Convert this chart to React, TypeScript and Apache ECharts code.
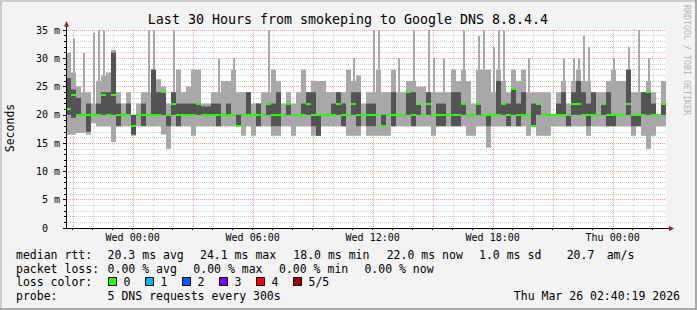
import { useEffect, useRef } from 'react';
import * as echarts from 'echarts';

// Time axis: hours relative to Wed 00:00 (graph spans Tue 20:40 .. Thu 02:40)
const START_HOUR = -10 / 3;
const SPAN_HOURS = 30;
const BUCKET_HOURS = 0.25;

// Sorted pings per 15-minute bucket (ms)
const pingMin = [
  16.5, 16.5, 16.8, 16.8, 16.5, 18.5, 18, 18, 18, 15.2, 18, 18, 18, 16.3, 18, 18, 18, 18, 18, 16.5,
  14, 18, 18, 18, 18, 16.3, 18, 18, 18, 18, 18, 18, 18, 18, 18, 16.3, 18, 16.3, 18, 18,
  18, 16.3, 16.3, 18, 18, 16.3, 18, 18, 18, 16.3, 16.3, 18, 18, 18, 18, 18, 16.3, 16.3, 16.3, 18,
  16.3, 16.3, 16.3, 16.3, 16.3, 18, 18, 18, 18, 18, 18, 18, 18, 16.3, 18, 18, 18, 18, 18, 18,
  16.3, 16.3, 18, 18, 14.2, 18, 18, 18, 18, 18, 18, 18, 16.3, 18, 16.3, 16.3, 16.3, 18, 18, 18,
  18, 18, 18, 18, 16.3, 18, 18, 18, 18, 18, 18, 18, 18, 16.3, 18, 16.3, 14, 16.3, 18, 18,
];
const pingLow = [
  20, 19.5, 20, 20, 17, 20, 20, 20, 20, 20, 18, 20, 20, 16.5, 20, 18, 20, 20, 20, 20,
  18, 20, 18, 20, 20, 20, 20, 20, 20, 20, 18, 20, 20, 20, 18, 20, 20, 20, 18, 20,
  20, 18, 18, 20, 20, 20, 20, 20, 20, 18, 16.3, 20, 20, 20, 20, 18, 20, 20, 18, 20,
  18, 18, 20, 18, 20, 18, 20, 20, 20, 18, 20, 20, 20, 20, 18, 18, 20, 18, 18, 20,
  20, 20, 20, 20, 18, 20, 20, 20, 18, 20, 18, 20, 20, 18, 20, 20, 20, 20, 20, 20,
  18, 20, 20, 20, 18, 20, 20, 20, 18, 18, 20, 20, 20, 18, 18, 20, 20, 20, 20, 20,
];
const pingMedian = [
  21, 23.5, 20, 20, 20, 20, 20, 23.5, 20, 23.5, 20, 20, 20, 18, 20, 20, 20, 20, 20, 24,
  20, 22, 20, 20, 20, 20, 22, 20, 20, 20, 20, 20, 20, 20, 18, 20, 20, 20, 20, 20,
  22, 20, 20, 20, 22, 20, 20, 20, 22, 20, 20, 20, 20, 20, 22, 20, 20, 22, 20, 20,
  20, 20, 20, 18, 20, 20, 20, 20, 24, 20, 22, 20, 22, 20, 20, 20, 20, 20, 20, 22,
  20, 20, 22, 20, 20, 20, 20, 22, 20, 24.5, 20, 20, 20, 18, 22, 20, 20, 20, 20, 20,
  20, 22, 22, 20, 20, 20, 20, 22, 20, 20, 20, 20, 22, 20, 20, 20, 24, 20, 20, 22,
];
const pingHigh = [
  26.5, 24.5, 23, 20, 22, 20, 22, 24, 24, 31, 22, 20, 22, 20, 20, 22, 20, 28, 24, 24,
  20, 24, 22, 22, 22, 22, 22, 21.5, 21.5, 22, 22, 20, 22, 20, 20, 20, 24, 20, 22, 20,
  22, 22, 24, 20, 22, 20, 20, 22, 24, 24, 20, 20, 20, 22, 24, 22, 20, 24, 24, 20,
  22, 22, 20, 20, 20, 24, 20, 20, 24, 24, 22, 20, 24, 20, 22, 22, 20, 24, 24, 22,
  20, 20, 22, 20, 20, 20, 26, 22, 22, 24.5, 22, 24, 20, 22, 22, 20, 20, 20, 22, 24,
  20, 24, 26, 24, 22, 24, 20, 22, 24, 20, 20, 20, 28, 20, 20, 24, 24, 22, 20, 22,
];
const pingMax = [
  31, 27.5, 25, 24, 24, 22, 26, 27, 27.5, 31.5, 24, 22, 24, 20, 22, 24, 24, 28, 26.3, 25,
  22, 24, 28, 24, 25, 28, 28, 22, 22, 24, 24, 26, 26, 28, 24, 24, 24, 22, 22, 24,
  24, 28, 26, 22, 24, 22, 24, 28, 24, 26, 26, 26, 24, 24, 24, 24, 28, 26, 27, 22,
  24, 24, 28, 24, 24, 28, 24, 24, 26, 26, 25, 25, 24, 24, 24, 24, 24, 28, 26, 28,
  26, 22, 28, 28, 28, 24, 28, 26, 24, 28, 26, 28, 24, 24, 24, 24, 24, 20, 24, 26,
  22, 26, 28, 26, 26, 24, 24, 24, 26, 28, 26, 26, 28, 24, 24, 24, 26, 24, 20, 26,
];
// Narrow outlier spikes: bucket index and top value (ms)
const spikeBucket = [1, 3, 5, 6, 7, 16, 17, 21, 30, 33, 40, 57, 61, 62, 66, 69, 72, 73, 75, 79, 82, 83, 85, 86, 87, 92, 99, 101, 102, 103, 104, 109, 112, 114, 116];
const spikeTop = [33.5, 31, 34.5, 35, 35, 35, 35, 35, 30, 30, 35, 30, 35, 35, 30, 35, 35, 30, 30, 35, 34, 35, 32, 35, 35, 30, 30, 30, 30, 34, 32, 30, 32, 35, 30];

const xLabelHours = [0, 6, 12, 18, 24];
const xLabelTexts = ['Wed 00:00', 'Wed 06:00', 'Wed 12:00', 'Wed 18:00', 'Thu 00:00'];
const lossLabels = ['0', '1', '2', '3', '4', '5/5'];
const lossColors = ['#26ff00', '#00b8ff', '#0059ff', '#7e00ff', '#ff0000', '#a10000'];
const rttStats = ['20.3 ms avg', '24.1 ms max', '18.0 ms min', '22.0 ms now', '1.0 ms sd', '20.7', 'am/s'];
const lossStats = ['0.00 % avg', '0.00 % max', '0.00 % min', '0.00 % now'];

const W = 697;
const H = 310;
const GRID = { left: 66, top: 30, width: 600, height: 198 };
const FONT = 'DejaVu Sans Mono';
const BACK = '#f3f3f3';
const LIGHT = '#a8a8a8';
const DARK = '#545454';
const GREEN = '#26ff00';
const MAJOR = '#f09a9a';
const MINOR = '#cccccc';
const MAJOR_V = '#f0a4a4';
const MINOR_V = '#d4d4d4';

function buildOption() {
  const spikes = new Map<number, number>();
  spikeBucket.forEach((b, i) => spikes.set(b, spikeTop[i]));
  const data = pingMin.map((_, i) => [
    START_HOUR + i * BUCKET_HOURS,
    pingMin[i],
    pingLow[i],
    pingMedian[i],
    pingHigh[i],
    pingMax[i],
    spikes.get(i) ?? 0,
  ]);
  const hours: number[] = [];
  for (let h = Math.ceil(START_HOUR); h <= START_HOUR + SPAN_HOURS; h++) hours.push(h);

  const gx0 = GRID.left;
  const gy0 = GRID.top;
  const gy1 = GRID.top + GRID.height;
  const gx1 = GRID.left + GRID.width;

  const text = (x: number, y: number, t: string, extra: any = {}) => ({
    type: 'text',
    x,
    y,
    silent: true,
    style: {
      text: t,
      fontFamily: FONT,
      fontSize: 11.5,
      fill: '#000',
      align: 'left',
      verticalAlign: 'middle',
      ...extra,
    },
  });
  const band = (x: number, y: number, w: number, h: number) => ({
    type: 'rect',
    silent: true,
    z: -1,
    shape: { x, y, width: w, height: h },
    style: { fill: BACK },
  });

  const rowY = [255, 268.5, 282, 296];
  const statX1 = [107.6, 200, 293.3, 386.7, 479, 566.7, 606.7];
  const statX2 = [107.6, 193.3, 279, 364.4];
  const graphic: any[] = [
    band(0, 0, W, gy0),
    band(0, gy1, W, H - gy1),
    band(0, gy0, gx0, GRID.height),
    band(gx1, gy0, W - gx1, GRID.height),
    { type: 'line', shape: { x1: 0, y1: 1, x2: W, y2: 1 }, style: { stroke: '#cbcbcb', lineWidth: 2 }, silent: true },
    { type: 'line', shape: { x1: 1, y1: 0, x2: 1, y2: H }, style: { stroke: '#cbcbcb', lineWidth: 2 }, silent: true },
    { type: 'line', shape: { x1: 0, y1: H - 1, x2: W, y2: H - 1 }, style: { stroke: '#a8a8a8', lineWidth: 2 }, silent: true },
    { type: 'line', shape: { x1: W - 1, y1: 0, x2: W - 1, y2: H }, style: { stroke: '#a8a8a8', lineWidth: 2 }, silent: true },
    text(348, 19, 'Last 30 Hours from smokeping to Google DNS 8.8.4.4', { align: 'center', fontSize: 13.3 }),
    { type: 'line', z: 10, shape: { x1: gx0 + 0.5, y1: gy1 + 0.5, x2: gx1 + 4, y2: gy1 + 0.5 }, style: { stroke: '#000', lineWidth: 1 }, silent: true },
    { type: 'line', z: 10, shape: { x1: gx0 + 0.5, y1: gy1 + 0.5, x2: gx0 + 0.5, y2: gy0 - 4 }, style: { stroke: '#000', lineWidth: 1 }, silent: true },
    { type: 'polygon', z: 10, shape: { points: [[gx0 - 2, gy0 - 3.5], [gx0 + 3, gy0 - 3.5], [gx0 + 0.5, gy0 - 9]] }, style: { fill: '#9a1c1c' }, silent: true },
    { type: 'polygon', z: 10, shape: { points: [[gx1 + 3, gy1 - 2], [gx1 + 3, gy1 + 3], [gx1 + 8, gy1 + 0.5]] }, style: { fill: '#9a1c1c' }, silent: true },
    { ...text(10, 128, 'Seconds', { align: 'center', fontSize: 11.5 }), rotation: Math.PI / 2 },
    { ...text(686.5, 60, 'RRDTOOL / TOBI OETIKER', { align: 'center', fontSize: 8.3, fill: '#b4b4b4' }), rotation: -Math.PI / 2 },
    text(16, rowY[0], 'median rtt:'),
    ...rttStats.map((s, i) => text(statX1[i], rowY[0], s)),
    text(16, rowY[1], 'packet loss:'),
    ...lossStats.map((s, i) => text(statX2[i], rowY[1], s)),
    text(16, rowY[2], 'loss color:'),
    ...lossLabels.flatMap((l, i) => [
      {
        type: 'rect',
        silent: true,
        shape: { x: 108.5 + i * 37, y: rowY[2] - 4.5, width: 8, height: 8 },
        style: { fill: lossColors[i], stroke: '#000', lineWidth: 1 },
      },
      text(123.5 + i * 37, rowY[2], l),
    ]),
    text(16, rowY[3], 'probe:'),
    text(107.6, rowY[3], '5 DNS requests every 300s'),
    text(680, rowY[3], 'Thu Mar 26 02:40:19 2026', { align: 'right' }),
  ];

  return {
    animation: false,
    backgroundColor: '#ffffff',
    grid: { ...GRID, show: false },
    xAxis: {
      type: 'value',
      min: START_HOUR,
      max: START_HOUR + SPAN_HOURS,
      axisLine: { show: false, onZero: false },
      splitLine: { show: false },
      axisTick: { show: true, customValues: hours, length: 2, lineStyle: { color: '#000' } },
      axisLabel: {
        customValues: xLabelHours,
        formatter: (v: number) => {
          const i = xLabelHours.findIndex((h) => Math.abs(h - v) < 1e-6);
          return i >= 0 ? xLabelTexts[i] : '';
        },
        fontFamily: FONT,
        fontSize: 10,
        color: '#000',
        margin: 4,
      },
    },
    yAxis: {
      type: 'value',
      min: 0,
      max: 35,
      interval: 5,
      axisLine: { show: false, onZero: false },
      axisTick: { show: true, length: 3, lineStyle: { color: '#000' } },
      minorTick: { show: true, splitNumber: 5, length: 2, lineStyle: { color: '#000' } },
      axisLabel: {
        formatter: (v: number) => (v === 0 ? '0\u00a0\u00a0' : `${v} m`),
        fontFamily: FONT,
        fontSize: 10,
        color: '#000',
        margin: 6,
      },
      splitLine: { show: true, lineStyle: { color: MAJOR, type: [1, 1], width: 1 } },
      minorSplitLine: { show: true, lineStyle: { color: MINOR, type: [1, 1], width: 1 } },
    },
    graphic,
    series: [
      {
        type: 'custom',
        z: 5,
        silent: true,
        data,
        encode: { x: 0, y: [1, 5] },
        renderItem: (_params: any, api: any) => {
          const x0 = api.value(0);
          const xa = Math.round(api.coord([x0, 0])[0]);
          const xb = Math.round(api.coord([x0 + BUCKET_HOURS, 0])[0]);
          const y = (v: number) => api.coord([x0, v])[1];
          const yMin = y(api.value(1));
          const yLow = y(api.value(2));
          const yMed = y(api.value(3));
          const yHigh = y(api.value(4));
          const yMax = y(api.value(5));
          const spike = api.value(6);
          const children: any[] = [];
          const hr = Math.ceil(x0 - 1e-9);
          if (hr < x0 + BUCKET_HOURS - 1e-9) {
            const gx = Math.round(api.coord([hr, 0])[0]);
            const yTop = y(35);
            const yBot = y(0);
            const col = ((hr % 3) + 3) % 3 === 0 ? MAJOR_V : MINOR_V;
            // dotted vertical grid line: 1px dots every 2px
            for (let py = Math.ceil(yTop); py < yBot; py += 2) {
              children.push({ type: 'rect', shape: { x: gx, y: py, width: 1, height: 1 }, style: { fill: col } });
            }
          }
          if (spike > 0) {
            const xs = Math.round(api.coord([x0 + BUCKET_HOURS * 0.4, 0])[0]);
            const ySp = y(spike);
            children.push({ type: 'rect', shape: { x: xs, y: ySp, width: 2, height: yMax - ySp }, style: { fill: LIGHT } });
          }
          children.push({ type: 'rect', shape: { x: xa, y: yMax, width: xb - xa, height: yMin - yMax }, style: { fill: LIGHT } });
          if (yLow - yHigh > 0.1) {
            children.push({ type: 'rect', shape: { x: xa, y: yHigh, width: xb - xa, height: yLow - yHigh }, style: { fill: DARK } });
          }
          children.push({ type: 'rect', shape: { x: xa, y: Math.round(yMed) - 1, width: xb - xa, height: 2 }, style: { fill: GREEN } });
          return { type: 'group', children };
        },
      },
    ],
  };
}

export default function App() {
  const ref = useRef<HTMLDivElement>(null);
  useEffect(() => {
    if (!ref.current) return;
    const chart = echarts.init(ref.current, undefined, { renderer: 'svg' });
    chart.setOption(buildOption() as any);
    return () => chart.dispose();
  }, []);
  return <div ref={ref} style={{ position: 'fixed', left: 0, top: 0, width: W, height: H }} />;
}
